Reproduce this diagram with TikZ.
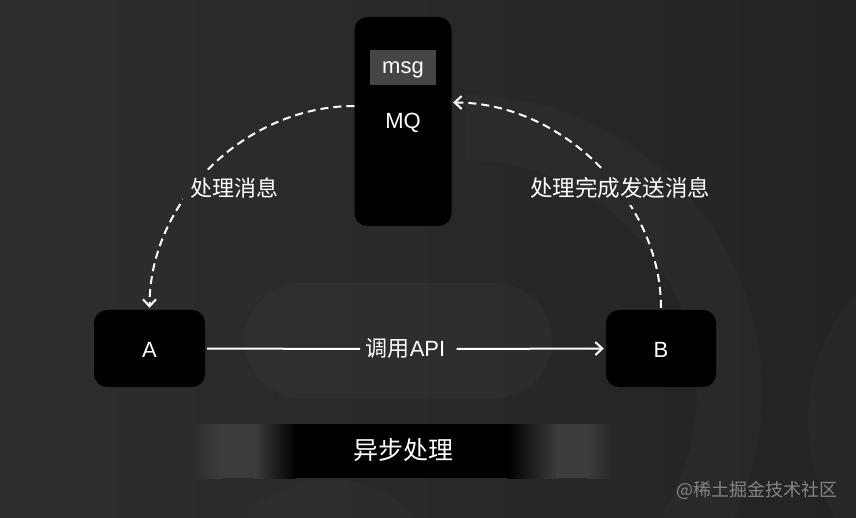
\documentclass[tikz,border=0pt]{standalone}
\usepackage{fontspec}
\setmainfont{Liberation Sans}
\newfontfamily\cjk{Noto Sans CJK SC}
\usetikzlibrary{arrows.meta,calc}
\definecolor{bgA}{HTML}{2E2E2E}
\definecolor{bgB}{HTML}{232323}
\definecolor{msgc}{HTML}{454545}
\definecolor{bangrey}{HTML}{3D3D3D}
\definecolor{wm}{HTML}{858585}
\newcommand\mybgfill{%
  \shade[left color=bgA, right color=bgB] (0,0) rectangle (856,518);
  \fill[white, opacity=0.018] (465,95) arc[start angle=-90, end angle=90, radius=297]
     -- (465,624) arc[start angle=90, end angle=-90, radius=232] -- cycle;
  \fill[white, opacity=0.02] (1000,420) circle[radius=192];
  \fill[white, opacity=0.025, rounded corners=57pt] (245,283) rectangle (552,398);
  \fill[white, opacity=0.015] (330,600) circle[radius=120];
}
\begin{document}
\begin{tikzpicture}[x=1pt,y=-1pt,
  box/.style={rectangle, fill=black, rounded corners=13pt, text=white, font=\fontsize{22}{25}\selectfont, inner sep=0pt, text depth=0pt},
  lbl/.style={text=white, font=\cjk\fontsize{22}{26}\selectfont, inner sep=0pt},
  flow/.style={draw=white, line width=2pt, -{Straight Barb[length=7pt,width=13pt]}},
  dashflow/.style={flow, dash pattern=on 8pt off 5pt},
]
\useasboundingbox (0,0) rectangle (856,518);
\begin{scope}
\clip (0,0) rectangle (856,518);
\mybgfill
\end{scope}

% bottom banner
\shade[left color=bgA, right color=bangrey] (195,424) rectangle (222,478);
\fill[bangrey] (221,424) rectangle (255,478);
\shade[left color=bangrey, right color=black] (254,424) rectangle (296,478);
\fill[black] (295,424) rectangle (508,478);
\shade[left color=black, right color=bangrey] (507,424) rectangle (558,478);
\fill[bangrey] (557,424) rectangle (588,478);
\shade[left color=bangrey, right color=bgB!60!bgA] (587,424) rectangle (612,478);
\node[text=white, font=\cjk\fontsize{25}{29}\selectfont] (ban) at (403,450) {异步处理};

% nodes
\node[box, minimum width=97pt, minimum height=209pt, text height=14pt] (mq) at (403,121.5) {MQ};
\node[rectangle, fill=msgc, minimum width=66pt, minimum height=35pt, inner sep=0pt, text=white, font=\fontsize{22}{25}\selectfont, text height=12pt, text depth=0pt] (msg) at (403,67.5) {msg};
\node[box, minimum width=111pt, minimum height=77pt, text height=17.6pt] (a) at (149.5,348.5) {A};
\node[box, minimum width=110pt, minimum height=77pt, text height=17.6pt] (b) at (661,348.5) {B};

% connectors
\draw[dashflow] ([yshift=15.5pt]mq.west) .. controls +(-108pt,0pt) and +(0pt,108pt) .. ([yshift=2pt]a.north);
\draw[dashflow] ([yshift=2pt]b.north) .. controls +(0pt,108pt) and +(108pt,0pt) .. ([xshift=1.5pt,yshift=19pt]mq.east);

% label backgrounds: background redrawn under the labels
\begin{scope}
\clip (183,171) rectangle (285,205);
\mybgfill
\end{scope}
\begin{scope}
\clip (524,171) rectangle (716,205);
\mybgfill
\end{scope}
\node[lbl] (l1) at (234,188) {处理消息};
\node[lbl, font=\cjk\fontsize{22.5}{26}\selectfont] (l2) at (620,188) {处理完成发送消息};

\node[anchor=base, text=white, font=\fontsize{22}{25}\selectfont, inner xsep=0pt] (api) at (405.5,356.7) {{\cjk 调用}API};
\draw[white, line width=2pt] ([xshift=2pt]a.east) -- (360,349);
\draw[flow] (456.5,349) -- ([xshift=-2pt]b.west);

% watermark
\node[anchor=east, text=wm, font=\cjk\fontsize{18}{21}\selectfont, inner sep=0pt] (wmk) at (838,490) {@稀土掘金技术社区};
\end{tikzpicture}
\end{document}
